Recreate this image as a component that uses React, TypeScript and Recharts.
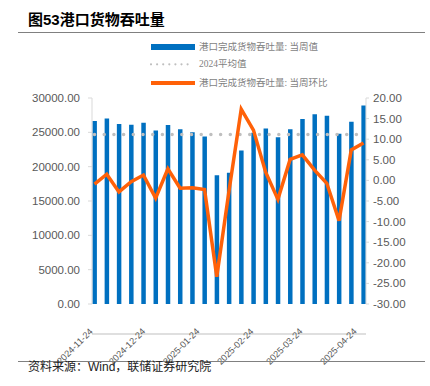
import React from 'react';
import { ComposedChart, Bar, Line, XAxis, YAxis } from 'recharts';

// weekly observations (week start dates)
const weeks = [
  '2024-11-24', '2024-12-01', '2024-12-08', '2024-12-15', '2024-12-22', '2024-12-29',
  '2025-01-05', '2025-01-12', '2025-01-19', '2025-01-26', '2025-02-02', '2025-02-09',
  '2025-02-16', '2025-02-23', '2025-03-02', '2025-03-09', '2025-03-16', '2025-03-23',
  '2025-03-30', '2025-04-06', '2025-04-13', '2025-04-20', '2025-04-27',
];

// 港口完成货物吞吐量: 当周值 (万吨)
const throughput = [
  26650, 27000, 26200, 26100, 26400, 25250, 26050, 25450, 25000, 24400, 18750, 19100,
  22350, 24950, 25550, 24300, 25450, 26950, 27650, 27400, 24800, 26550, 28900,
];

// 港口完成货物吞吐量: 当周环比 (%)
const wowChange = [
  -0.9, 1.5, -2.8, -0.3, 1.3, -4.3, 2.8, -1.9, -1.8, -2.2, -23.4, -2.6,
  17.3, 12.2, 2.0, -4.6, 5.1, 6.2, 2.5, -0.7, -9.8, 7.4, 9.1,
];

// 2024平均值
const avg2024 = 24700;

const dateTicks = ['2024-11-24', '2024-12-24', '2025-01-24', '2025-02-24', '2025-03-24', '2025-04-24'];
const leftTicks = [0, 5000, 10000, 15000, 20000, 25000, 30000];
const rightTicks = [-30, -25, -20, -15, -10, -5, 0, 5, 10, 15, 20];

const DAY = 86400000;
const dayOf = (d: string) => (Date.parse(d) - Date.parse(weeks[0])) / DAY;
const dateOf = (day: number) => new Date(Date.parse(weeks[0]) + day * DAY).toISOString().slice(0, 10);

const data = weeks.map((w, i) => ({
  week: w,
  day: dayOf(w),
  value: throughput[i],
  avg: avg2024,
  wow: wowChange[i],
}));

const SANS = '"Liberation Sans", Arial, "Noto Sans CJK SC", sans-serif';
const SERIF = '"Liberation Serif", "Noto Sans CJK SC", serif';
const BLUE = '#0070C0';
const ORANGE = '#FF6108';
const GRAY_AXIS = '#D9D9D9';
const LABEL = '#595959';

// rotated date label, anchored just under the x axis line
const DateTick = ({ x, y, payload }: any) => {
  const tx = x - 1;
  const ty = y - 2;
  return (
    <text
      x={tx}
      y={ty}
      transform={`rotate(-45 ${tx} ${ty})`}
      textAnchor="end"
      fontSize={9.2}
      fontFamily={SANS}
      fill={LABEL}
    >
      {dateOf(payload.value)}
    </text>
  );
};

const legendText: React.CSSProperties = {
  position: 'absolute',
  left: 199,
  height: 14,
  lineHeight: '14px',
  fontSize: 9.5,
  fontFamily: SERIF,
  color: '#7F7F7F',
  whiteSpace: 'nowrap',
};

export default function App() {
  const firstDay = data[0].day;
  const lastDay = data[data.length - 1].day;

  return (
    <div style={{ position: 'absolute', left: 0, top: 0, width: 430, height: 386, background: '#fff' }}>
      {/* title */}
      <div
        style={{
          position: 'absolute', left: 28, top: 11, fontSize: 15, lineHeight: '17px',
          fontWeight: 'bold', fontFamily: SANS, color: '#000', whiteSpace: 'nowrap',
        }}
      >
        图53港口货物吞吐量
      </div>
      <div style={{ position: 'absolute', left: 18, top: 31.5, width: 407, height: 1.5, background: '#808080' }} />

      {/* legend */}
      <div style={{ position: 'absolute', left: 151, top: 44, width: 44, height: 6, background: BLUE }} />
      <div style={{ ...legendText, top: 40 }}>港口完成货物吞吐量: 当周值</div>
      <svg style={{ position: 'absolute', left: 148, top: 60, width: 50, height: 10 }}>
        <line x1={3} y1={4.3} x2={45} y2={4.3} stroke="#BFBFBF" strokeWidth={2.2}
          strokeDasharray="0 6.1" strokeLinecap="round" />
      </svg>
      <div style={{ ...legendText, top: 57 }}>2024平均值</div>
      <div style={{ position: 'absolute', left: 151, top: 81, width: 44, height: 3.5, background: ORANGE }} />
      <div style={{ ...legendText, top: 76 }}>港口完成货物吞吐量: 当周环比</div>

      <div style={{ position: 'absolute', left: 0, top: 0 }}>
        <ComposedChart
          width={430}
          height={386}
          data={data}
          margin={{ top: 98, right: 14, bottom: 22, left: 12 }}
        >
          <XAxis xAxisId="cat" dataKey="week" hide padding={{ left: -3.6, right: -3.6 }} />
          <XAxis
            xAxisId="date"
            type="number"
            dataKey="day"
            domain={[firstDay - 1.43, lastDay + 1.43]}
            allowDataOverflow
            ticks={dateTicks.map(dayOf)}
            interval={0}
            height={60}
            tickLine={false}
            tickSize={0}
            tickMargin={0}
            axisLine={{ stroke: '#BFBFBF', strokeWidth: 1.2 }}
            tick={<DateTick />}
          />
          <YAxis
            yAxisId="left"
            orientation="left"
            width={80}
            domain={[0, 30000]}
            ticks={leftTicks}
            interval={0}
            tickFormatter={(v: number) => v.toFixed(2)}
            tick={{ fontSize: 11.5, fill: LABEL, fontFamily: SANS }}
            axisLine={{ stroke: GRAY_AXIS }}
            tickLine={{ stroke: GRAY_AXIS }}
            tickSize={4}
            tickMargin={8}
          />
          <YAxis
            yAxisId="right"
            orientation="right"
            width={50}
            domain={[-30, 20]}
            ticks={rightTicks}
            interval={0}
            tickFormatter={(v: number) => v.toFixed(2)}
            tick={{ fontSize: 11.5, fill: LABEL, fontFamily: SANS, textAnchor: 'start' }}
            axisLine={{ stroke: GRAY_AXIS }}
            tickLine={{ stroke: GRAY_AXIS }}
            tickSize={3}
            tickMargin={4}
          />
          <Bar
            xAxisId="cat"
            yAxisId="left"
            dataKey="value"
            fill={BLUE}
            barSize={4.5}
            isAnimationActive={false}
          />
          <Line
            xAxisId="cat"
            yAxisId="left"
            dataKey="avg"
            stroke="#BFBFBF"
            strokeWidth={3.5}
            strokeDasharray="0 9.7"
            strokeLinecap="round"
            dot={false}
            activeDot={false}
            isAnimationActive={false}
          />
          <Line
            xAxisId="cat"
            yAxisId="right"
            type="linear"
            dataKey="wow"
            stroke={ORANGE}
            strokeWidth={3.5}
            dot={false}
            activeDot={false}
            isAnimationActive={false}
          />
        </ComposedChart>
      </div>

      {/* source */}
      <div style={{ position: 'absolute', left: 18, top: 360.5, width: 407, height: 1, background: '#808080' }} />
      <div
        style={{
          position: 'absolute', left: 28, top: 360, fontSize: 12, lineHeight: '14px',
          fontFamily: SANS, color: '#222', whiteSpace: 'nowrap',
        }}
      >
        资料来源：Wind，联储证券研究院
      </div>
    </div>
  );
}
